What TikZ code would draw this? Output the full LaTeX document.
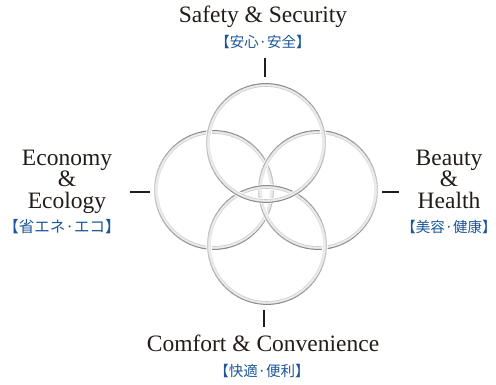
\documentclass[tikz,border=0pt]{standalone}
\usepackage{fontspec}
\setmainfont{Liberation Serif}
\newfontfamily\cjk{Noto Sans CJK JP}
\definecolor{jpblue}{RGB}{28,86,152}
\definecolor{ink}{RGB}{35,28,25}
\newcommand{\tightlines}{\lineskiplimit=-100pt\relax}
\begin{document}
\begin{tikzpicture}[x=1pt,y=1pt,
  en/.style={text=ink,inner sep=0pt,font=\fontsize{23.5}{21.6}\selectfont\tightlines,anchor=base},
  enblock/.style={en,align=center,anchor=north},
  jp/.style={text=jpblue,inner sep=0pt,font=\cjk\fontsize{14.5}{17}\selectfont,anchor=center},
  tick/.style={draw=ink,line width=1.4pt}]
\useasboundingbox (0,0) rectangle (496,-385);
% rings
\newcommand{\myring}[1]{%
  \draw[white,line width=5.5pt] (#1) circle[radius=58];
  \draw[black!8,line width=3.4pt] (#1) circle[radius=58];
  \foreach \a in {0,6,...,354}{%
    \pgfmathsetmacro\k{18+28*abs(sin(\a+3))}%
    \draw[black!\k,line width=1.0pt] ([shift={(\a:59.4)}]#1) arc[start angle=\a,end angle=\a+6.5,radius=59.4];
    \pgfmathsetmacro\kk{7+13*abs(sin(\a+3))}%
    \draw[black!\kk,line width=0.6pt] ([shift={(\a:56.5)}]#1) arc[start angle=\a,end angle=\a+6.5,radius=56.5];
  }}
\coordinate (cl) at (214,-190);
\coordinate (cr) at (318,-190);
\coordinate (cb) at (267,-245);
\coordinate (ct) at (266,-143);
\myring{cl}
\myring{cr}
\myring{cb}
\myring{ct}
% labels
\node[en] (top) at (263,-23) {Safety \& Security};
\node[jp] (topjp) at (263,-42) {【安心·安全】};
\node[enblock] (left) at (67,-149.5) {Economy\\\&\\Ecology};
\node[jp,font=\cjk\fontsize{15.5}{18}\selectfont] (ljp) at (62,-227) {【省エネ·エコ】};
\node[enblock] (right) at (449,-149.5) {Beauty\\\&\\Health};
\node[jp] (rjp) at (449,-227) {【美容·健康】};
\node[en] (bot) at (263,-352) {Comfort \& Convenience};
\node[jp] (botjp) at (262,-371) {【快適·便利】};
% ticks
\coordinate (t1) at (265,-58); \coordinate (t2) at (265,-77);
\coordinate (l1a) at (130,-192); \coordinate (l1b) at (150,-192);
\coordinate (r1a) at (382,-192); \coordinate (r1b) at (399,-192);
\coordinate (b1) at (264,-310); \coordinate (b2) at (264,-327);
\draw[tick] (t1) -- (t2);
\draw[tick] (l1a) -- (l1b);
\draw[tick] (r1a) -- (r1b);
\draw[tick] (b1) -- (b2);
\end{tikzpicture}
\end{document}
